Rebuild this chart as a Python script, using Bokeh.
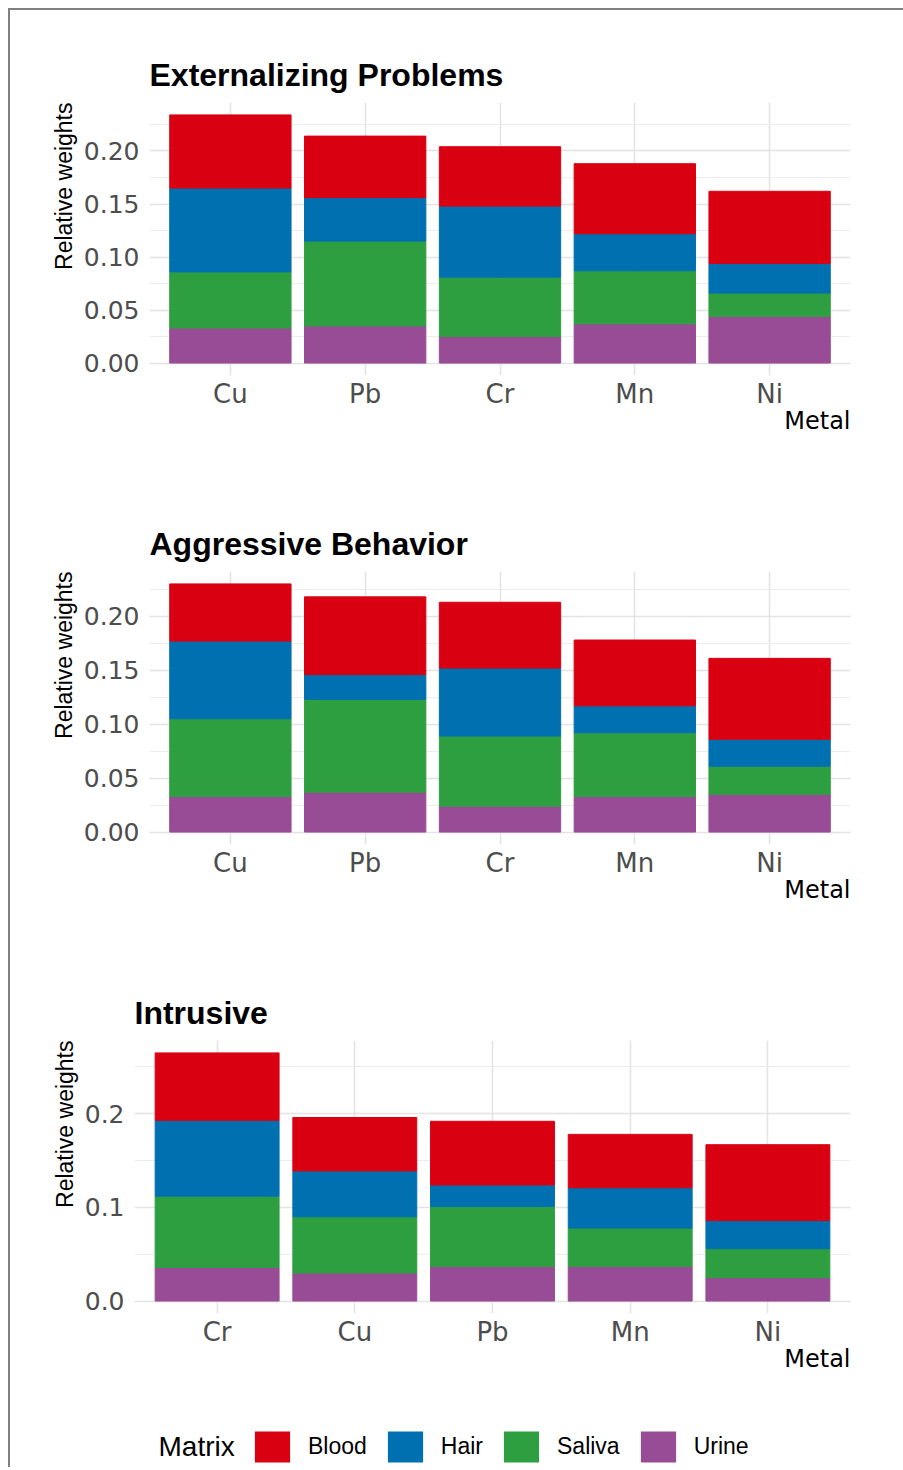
from bokeh.plotting import figure
from bokeh.models import (FactorRange, Range1d, FixedTicker, NumeralTickFormatter, Title,
                          Legend, LegendItem, Label, ColumnDataSource)
from bokeh.layouts import column
from bokeh.embed import file_html
from bokeh.resources import INLINE

# stack order: bottom -> top
matrices = ["Urine", "Saliva", "Hair", "Blood"]
legend_order = ["Blood", "Hair", "Saliva", "Urine"]
colors = {"Blood": "#D90012", "Hair": "#0070B0", "Saliva": "#2E9F40", "Urine": "#984C96"}

# Externalizing Problems
ext_metals = ["Cu", "Pb", "Cr", "Mn", "Ni"]
ext_urine = [0.033, 0.035, 0.025, 0.037, 0.044]
ext_saliva = [0.053, 0.080, 0.056, 0.050, 0.022]
ext_hair = [0.079, 0.041, 0.067, 0.035, 0.028]
ext_blood = [0.069, 0.058, 0.056, 0.066, 0.068]

# Aggressive Behavior
agg_metals = ["Cu", "Pb", "Cr", "Mn", "Ni"]
agg_urine = [0.033, 0.037, 0.024, 0.033, 0.035]
agg_saliva = [0.072, 0.086, 0.065, 0.059, 0.026]
agg_hair = [0.072, 0.023, 0.063, 0.025, 0.025]
agg_blood = [0.053, 0.072, 0.061, 0.061, 0.075]

# Intrusive
int_metals = ["Cr", "Cu", "Pb", "Mn", "Ni"]
int_urine = [0.036, 0.030, 0.037, 0.037, 0.025]
int_saliva = [0.076, 0.060, 0.064, 0.041, 0.031]
int_hair = [0.081, 0.049, 0.023, 0.043, 0.030]
int_blood = [0.072, 0.057, 0.068, 0.057, 0.081]

ticks2 = [0.0, 0.05, 0.10, 0.15, 0.20]
minor2 = [0.025, 0.075, 0.125, 0.175, 0.225]
ticks1 = [0.0, 0.1, 0.2]
minor1 = [0.05, 0.15, 0.25]

FIG_W = 893
TICK_COL = "#4D4D4D"
BORDER = "2px solid #808080"


def panel(title, metals, urine, saliva, hair, blood, ticks, minor, fmt, left, height, bottom):
    series = {"Urine": urine, "Saliva": saliva, "Hair": hair, "Blood": blood}
    totals = [sum(v) for v in zip(urine, saliva, hair, blood)]
    top = max(totals)
    p = figure(x_range=FactorRange(factors=metals, range_padding=0.1, range_padding_units="absolute"),
               y_range=Range1d(-0.05 * top, 1.05 * top),
               width=FIG_W, height=height, output_backend="svg", toolbar_location=None,
               min_border_left=left, min_border_right=53, min_border_top=92,
               min_border_bottom=bottom, title=title)
    src = ColumnDataSource(dict(metal=metals, **series))
    p.vbar_stack(matrices, x="metal", width=0.9, source=src,
                 fill_color=[colors[m] for m in matrices],
                 line_color=[colors[m] for m in matrices], line_width=1)
    p.outline_line_color = None
    p.background_fill_color = "white"

    p.title.text_font = "Liberation Sans"
    p.title.text_font_size = "32px"
    p.title.text_font_style = "bold"
    p.title.text_color = "black"
    p.title.standoff = 19

    xa = p.xaxis[0]
    xa.axis_line_color = None
    xa.major_tick_line_color = None
    xa.minor_tick_line_color = None
    xa.major_tick_out = 0
    xa.major_tick_in = 0
    xa.major_label_text_font = "DejaVu Sans"
    xa.major_label_text_font_size = "26px"
    xa.major_label_text_color = TICK_COL
    xa.major_label_standoff = 3

    ya = p.yaxis[0]
    ya.axis_line_color = None
    ya.major_tick_line_color = None
    ya.minor_tick_line_color = None
    ya.major_tick_out = 0
    ya.major_tick_in = 0
    ya.minor_tick_out = 0
    ya.minor_tick_in = 0
    ticker = FixedTicker(ticks=ticks, minor_ticks=minor)
    ya.ticker = ticker
    ya.formatter = NumeralTickFormatter(format=fmt)
    ya.major_label_text_font = "DejaVu Sans"
    ya.major_label_text_font_size = "25px"
    ya.major_label_text_color = TICK_COL
    ya.major_label_standoff = 10

    # y-axis title, aligned to the top of the panel
    p.add_layout(Title(text="Relative weights", align="right", text_font="Liberation Sans",
                       text_font_size="23px", text_font_style="normal",
                       text_color="black", standoff=8), "left")

    p.ygrid.ticker = ticker
    p.ygrid.grid_line_color = "#E3E3E3"
    p.ygrid.grid_line_width = 1.5
    p.ygrid.minor_grid_line_color = "#EDEDED"
    p.ygrid.minor_grid_line_width = 1
    p.xgrid.grid_line_color = "#E3E3E3"
    p.xgrid.grid_line_width = 1.5

    p.add_layout(Title(text="Metal", align="right", text_font="DejaVu Sans",
                       text_font_size="24px", text_font_style="normal",
                       text_color="black", standoff=-14), "below")
    return p


p1 = panel("Externalizing Problems", ext_metals, ext_urine, ext_saliva, ext_hair, ext_blood,
           ticks2, minor2, "0.00", 139, 469, 104)
p2 = panel("Aggressive Behavior", agg_metals, agg_urine, agg_saliva, agg_hair, agg_blood,
           ticks2, minor2, "0.00", 139, 469, 104)
p3 = panel("Intrusive", int_metals, int_urine, int_saliva, int_hair, int_blood,
           ticks1, minor1, "0.0", 124, 439, 74)

# legend strip
LEG_H = 80
pl = figure(width=FIG_W, height=LEG_H, x_range=Range1d(0, FIG_W), y_range=Range1d(0, LEG_H),
            output_backend="svg", toolbar_location=None,
            x_axis_location=None, y_axis_location=None,
            min_border=0, min_border_left=0, min_border_right=0, min_border_top=0, min_border_bottom=0)
pl.grid.visible = False
pl.outline_line_color = None
items = []
for m in legend_order:
    r = pl.vbar(x=[0], top=[0], bottom=[0], width=0, fill_color=colors[m], line_color=None)
    items.append(LegendItem(label=m, renderers=[r]))
leg = Legend(items=items, orientation="horizontal", location=(240, 1),
             glyph_width=44, glyph_height=39, label_standoff=14, spacing=16,
             padding=0, margin=0, border_line_color=None, background_fill_alpha=0,
             label_text_font="Liberation Sans", label_text_font_size="23px",
             label_text_color="black")
pl.add_layout(leg, "center")
pl.add_layout(Label(x=148, y=21, text="Matrix", text_font="Liberation Sans",
                    text_font_size="28px", text_baseline="middle", text_color="black"))

c1 = column(p1, styles={"margin-left": "8px", "margin-top": "8px",
                        "border-top": BORDER, "border-left": BORDER})
c2 = column(p2, styles={"margin-left": "8px", "border-left": BORDER})
c3 = column(p3, styles={"margin-left": "8px", "border-left": BORDER})
c4 = column(pl, styles={"margin-left": "8px", "border-left": BORDER})

open("out.html", "w").write(file_html([c1, c2, c3, c4], INLINE))
